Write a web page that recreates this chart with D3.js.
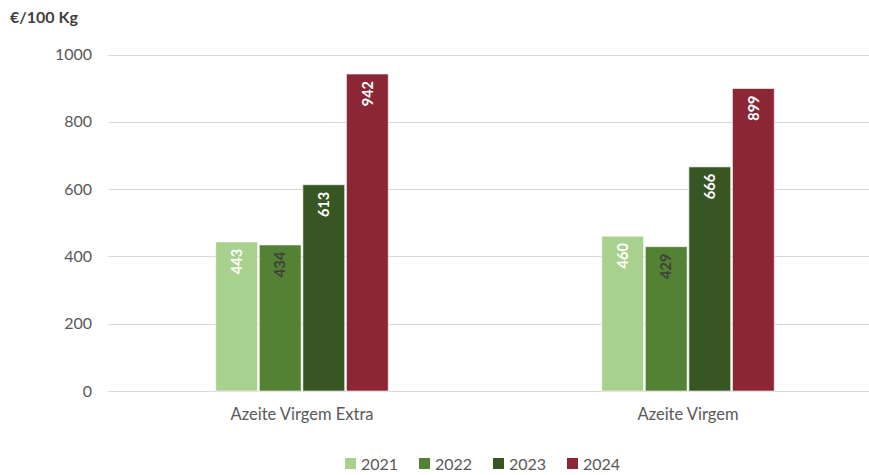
<!DOCTYPE html>
<html lang="en">
<head>
<meta charset="UTF-8">
<style>
    body {margin: 0; background: #fff; font-family: Lato, "Open Sans", sans-serif;}
    svg {display: block;}
</style>
</head>
<body>
<div id="chart"></div>
<script src="https://d3js.org/d3.v7.min.js"></script>
<script>
// data
var categories = ["Azeite Virgem Extra", "Azeite Virgem"];
var years = ["2021", "2022", "2023", "2024"];
var values2021 = [443, 460];
var values2022 = [434, 429];
var values2023 = [613, 666];
var values2024 = [942, 899];
var yTicks = [0, 200, 400, 600, 800, 1000];
var colors = ["#a9d18e", "#548235", "#375623", "#8b2635"];
var labelColors = ["#ffffff", "#404040", "#ffffff", "#ffffff"];

var series = [values2021, values2022, values2023, values2024];

var width = 869, height = 475;

var svg = d3.select("#chart")
    .append("svg")
    .attr("width", width)
    .attr("height", height);

// scales
var x = d3.scaleBand().domain(categories).range([109, 881])
    .paddingInner(0.544).paddingOuter(0.272);
var xi = d3.scaleBand().domain(years).range([0, x.bandwidth()]).padding(0.04);
var y = d3.scaleLinear().domain([0, 1000]).range([391, 54.5]);

// gridlines
svg.append("g")
    .selectAll("line")
    .data(yTicks)
    .enter().append("line")
    .attr("x1", 108)
    .attr("x2", width)
    .attr("y1", function(d) { return Math.round(y(d)) + 0.5; })
    .attr("y2", function(d) { return Math.round(y(d)) + 0.5; })
    .attr("stroke", "#d9d9d9")
    .attr("stroke-width", 1);

// y axis labels
svg.append("g")
    .selectAll("text")
    .data(yTicks)
    .enter().append("text")
    .attr("x", 92)
    .attr("y", function(d) { return y(d); })
    .attr("dy", "0.35em")
    .attr("text-anchor", "end")
    .attr("font-size", 16)
    .attr("fill", "#595959")
    .text(function(d) { return d; });

// y title
svg.append("text")
    .attr("x", 10)
    .attr("y", 23)
    .attr("font-size", 16)
    .attr("font-weight", "bold")
    .attr("fill", "#404040")
    .text("€/100 Kg");

// bars
var rows = [];
categories.forEach(function(c, ci) {
    years.forEach(function(yr, yi) {
        rows.push({cat: c, year: yr, yi: yi, value: series[yi][ci]});
    });
});

var groups = svg.append("g");
groups.selectAll("rect")
    .data(rows)
    .enter().append("rect")
    .attr("x", function(d) { return x(d.cat) + xi(d.year); })
    .attr("y", function(d) { return y(d.value); })
    .attr("width", xi.bandwidth())
    .attr("height", function(d) { return y(0) - y(d.value); })
    .attr("fill", function(d) { return colors[d.yi]; })
    .attr("stroke", "#ffffff")
    .attr("stroke-opacity", 0.6)
    .attr("stroke-width", 1);

// value labels, rotated
groups.selectAll("text")
    .data(rows)
    .enter().append("text")
    .attr("transform", function(d) {
        var cx = x(d.cat) + xi(d.year) + xi.bandwidth() / 2;
        var ty = y(d.value) + 7;
        return "translate(" + cx + "," + ty + ") rotate(-90)";
    })
    .attr("dy", "0.36em")
    .attr("text-anchor", "end")
    .attr("font-size", 14.5)
    .attr("font-weight", "bold")
    .attr("fill", function(d) { return labelColors[d.yi]; })
    .text(function(d) { return d.value; });

// category labels
svg.append("g")
    .selectAll("text")
    .data(categories)
    .enter().append("text")
    .attr("x", function(d) { return x(d) + x.bandwidth() / 2; })
    .attr("y", 420)
    .attr("text-anchor", "middle")
    .attr("font-size", 16.5)
    .attr("fill", "#595959")
    .text(function(d) { return d; });

// legend
var legend = svg.append("g")
    .selectAll("g")
    .data(years)
    .enter().append("g")
    .attr("transform", function(d, i) { return "translate(" + (345 + i * 74) + ",458)"; });

legend.append("rect")
    .attr("width", 11)
    .attr("height", 11)
    .attr("fill", function(d, i) { return colors[i]; });

legend.append("text")
    .attr("x", 16)
    .attr("y", 11.5)
    .attr("font-size", 16)
    .attr("fill", "#595959")
    .text(function(d) { return d; });
</script>
</body>
</html>
